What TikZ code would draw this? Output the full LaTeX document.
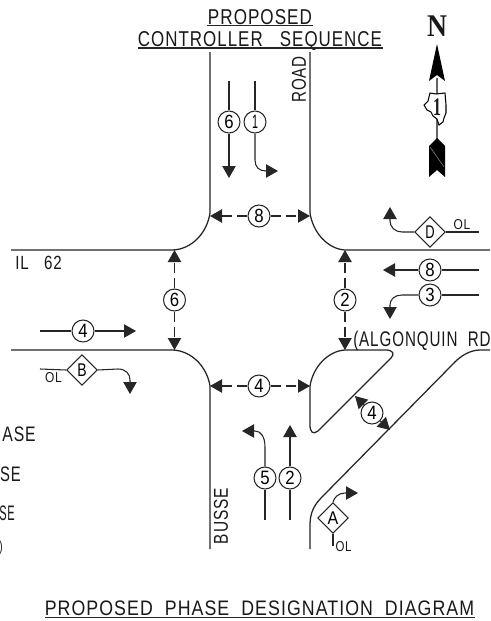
\documentclass[tikz,border=0pt]{standalone}
\usepackage{graphicx}
\usepackage{fontspec}
\setmainfont[LetterSpace=6]{Liberation Sans}
\usetikzlibrary{arrows.meta,shapes.geometric}
\newcommand{\cad}[3]{\resizebox{#1pt}{#2pt}{#3}}
\newcommand{\dig}[1]{\resizebox{7pt}{10pt}{\addfontfeature{LetterSpace=0}#1}}
\tikzset{
 road/.style={line width=0.95pt,color=black!85},
 lane/.style={line width=0.8pt,color=black!85},
 tipped/.style={-{Triangle[length=9pt,width=10pt]}},
 peddash/.style={lane,dash pattern=on 7.5pt off 4pt},
 phase/.style={circle,draw=black!85,line width=0.8pt,minimum size=16.5pt,inner sep=0pt,fill=white},
 ovl/.style={diamond,aspect=1,draw=black!85,line width=0.8pt,minimum size=23pt,inner sep=0pt,fill=white},
 lbl/.style={inner sep=0pt,text=black!90},
}
\begin{document}
\begin{tikzpicture}[x=0.75pt,y=-0.75pt]
\useasboundingbox (0,0) rectangle (490,621);
\clip (0,0) rectangle (490,621);
\fill[white] (0,0) rectangle (490,621);
% roads
\draw[road] (210,52) -- (210,213) .. controls (207,233) and (192,249) .. (173,250) -- (11,250);
\draw[road] (310,52) -- (310,213) .. controls (313,233) and (328,249) .. (345,250) -- (490,250);
\draw[road] (11,350) -- (173,350) .. controls (192,351) and (207,367) .. (210,386) -- (210,549);
\draw[road] (310,386) .. controls (313,367) and (328,351) .. (345,350) -- (386,350) .. controls (393,350) and (395,354) .. (391,358) -- (318,431) .. controls (313,435) and (310,432) .. (310,425) -- cycle;
\draw[road] (490,350) -- (480,350) .. controls (470,350) and (460,356) .. (452,365) -- (322,497) .. controls (314,505) and (310,513) .. (310,525) -- (310,549);
% phase circles
\node[phase] (p6a) at (229,122) {\dig{6}};
\node[phase] (p1) at (255,122) {\resizebox{4.5pt}{10pt}{1}};
\node[phase] (p8a) at (259,216) {\dig{8}};
\node[phase] (p6b) at (174.5,300) {\dig{6}};
\node[phase] (p2a) at (345,300) {\dig{2}};
\node[phase] (p4a) at (83,331) {\dig{4}};
\node[phase] (p4b) at (259,386) {\dig{4}};
\node[phase] (p8b) at (430,270) {\dig{8}};
\node[phase] (p3) at (430,295) {\dig{3}};
\node[phase] (p4c) at (372,413) {\dig{4}};
\node[phase] (p5) at (265,478) {\dig{5}};
\node[phase] (p2b) at (290,478) {\dig{2}};
% overlaps
\node[ovl] (ovB) at (82,370) {\cad{7}{9.5}{B}};
\node[ovl] (ovD) at (430,232) {\cad{7}{9.5}{D}};
\node[ovl] (ovA) at (333,518) {\cad{8}{9.5}{A}};
% free ends
\coordinate (s6a) at (229,81); \coordinate (e6a) at (229,178);
\coordinate (s1) at (255,81); \coordinate (e1) at (278,171);
\coordinate (d8l) at (210,216); \coordinate (d8r) at (310,216);
\coordinate (d6t) at (174.5,250); \coordinate (d6b) at (174.5,350);
\coordinate (d2t) at (345,250); \coordinate (d2b) at (345,350);
\coordinate (d4l) at (210,386); \coordinate (d4r) at (310,386);
\coordinate (s4) at (40,331); \coordinate (e4) at (136,331);
\coordinate (sB) at (40,369); \coordinate (eB) at (130,394);
\coordinate (sD) at (479,232); \coordinate (eD) at (390,207);
\coordinate (s8) at (479,270); \coordinate (e8) at (383,270);
\coordinate (s3) at (479,295); \coordinate (e3) at (390,319);
\coordinate (d4u) at (355,396); \coordinate (d4v) at (390,430);
\coordinate (s5) at (265,520); \coordinate (e5) at (242,431);
\coordinate (s2) at (290,520); \coordinate (e2) at (290,425);
\coordinate (sA) at (333,546); \coordinate (eA) at (358,493);
% lanes
\draw[lane] (s6a) -- (p6a);
\draw[lane,tipped] (p6a) -- (e6a);
\draw[lane] (s1) -- (p1);
\draw[lane,tipped] (p1) -- (255,160) .. controls (255,167) and (259,171) .. (266,171) -- (e1);
\draw[peddash,tipped] (p8a) -- (d8l);
\draw[peddash,tipped] (p8a) -- (d8r);
\draw[peddash,tipped] (p6b) -- (d6t);
\draw[peddash,tipped] (p6b) -- (d6b);
\draw[peddash,tipped] (p2a) -- (d2t);
\draw[peddash,tipped] (p2a) -- (d2b);
\draw[peddash,tipped] (p4b) -- (d4l);
\draw[peddash,tipped] (p4b) -- (d4r);
\draw[lane] (s4) -- (p4a);
\draw[lane,tipped] (p4a) -- (e4);
\draw[lane] (sB) -- (ovB.west);
\draw[lane,tipped] (ovB.east) -- (118,369) .. controls (126,369) and (130,374) .. (130,380) -- (eB);
\draw[lane] (sD) -- (ovD.east);
\draw[lane,tipped] (ovD.west) -- (402,232) .. controls (395,232) and (390,227) .. (390,221) -- (eD);
\draw[lane] (s8) -- (p8b);
\draw[lane,tipped] (p8b) -- (e8);
\draw[lane] (s3) -- (p3);
\draw[lane,tipped] (p3) -- (402,295) .. controls (395,295) and (390,299) .. (390,305) -- (e3);
\draw[lane,tipped] (p4c) -- (d4u);
\draw[lane,tipped] (p4c) -- (d4v);
\draw[lane] (s5) -- (p5);
\draw[lane,tipped] (p5) -- (265,447) .. controls (265,437) and (261,431) .. (255,431) -- (e5);
\draw[lane] (s2) -- (p2b);
\draw[lane,tipped] (p2b) -- (e2);
\draw[lane] (sA) -- (ovA.south);
\draw[lane,tipped] (ovA.north) .. controls (334,498) and (338,493) .. (345,493) -- (eA);
% texts
\node[lbl,anchor=base] (t1) at (260,24) {\cad{78}{11.25}{PROPOSED}};
\node[lbl,anchor=base] (t2) at (260,46) {\cad{183}{11.25}{CONTROLLER\ \ \ SEQUENCE}};
\node[lbl,anchor=base] (t3) at (259.5,615) {\cad{322}{11}{PROPOSED\ \ PHASE\ \ DESIGNATION\ \ DIAGRAM}};
\draw[road] (207,25.5) -- (313,25.5);
\draw[road] (138,48) -- (383,48);
\draw[road] (45,617.5) -- (475,617.5);
\node[lbl,anchor=base west] (il) at (15,269) {\cad{35}{10}{IL\ \ \ 62}};
\node[lbl,rotate=90] (rd) at (299,79.5) {\cad{35}{10.5}{ROAD}};
\node[lbl,rotate=90] (bs) at (221,516) {\cad{42}{10.5}{BUSSE}};
\node[lbl,anchor=base west] (al) at (353,346) {\cad{103}{11.5}{(ALGONQUIN\ \ RD}};
\node[lbl] (olb) at (53.5,377.5) {\cad{12.5}{7.5}{OL}};
\node[lbl] (old) at (462,224.5) {\cad{12.5}{7.5}{OL}};
\node[lbl] (ola) at (343.5,547) {\cad{12}{7.5}{OL}};
\node[lbl,anchor=east] (x1) at (36,434) {\cad{25}{11}{ASE}};
\node[lbl,anchor=east] (x2) at (21,474) {\cad{15.5}{11}{SE}};
\node[lbl,anchor=east] (x3) at (15,513) {\cad{11.5}{11}{SE}};
\node[lbl,anchor=east] (x4) at (3,548) {\cad{2.5}{8}{)}};
% north arrow
\draw[line width=1.2pt,color=black!60] (437,78) -- (437,140);
\fill[black] (437,44) -- (445,81) -- (437,75) -- (429,81) -- cycle;
\fill[black] (437,138) -- (445,146) -- (445,177) -- (437,170) -- (429,177) -- (429,146) -- cycle;
\draw[line width=0.4pt,color=black!45] (430,147) -- (444,167);
\node[lbl] (nn) at (437,26) {\resizebox{15pt}{15.5pt}{\fontspec{Liberation Serif}\bfseries N}};
\draw[line width=0.8pt,fill=white] (430,93) -- (436,94) -- (445,93) -- (446,105) -- (446,113) -- (444,118) -- (443,122) -- (439,125) -- (437,119) -- (433,116) -- (431,112) -- (427,110) -- (424,105) -- (428,101) -- cycle;
\node[lbl] (il1) at (437,107) {\resizebox{6pt}{12.5pt}{\fontspec{Liberation Serif}\bfseries 1}};
\end{tikzpicture}
\end{document}
